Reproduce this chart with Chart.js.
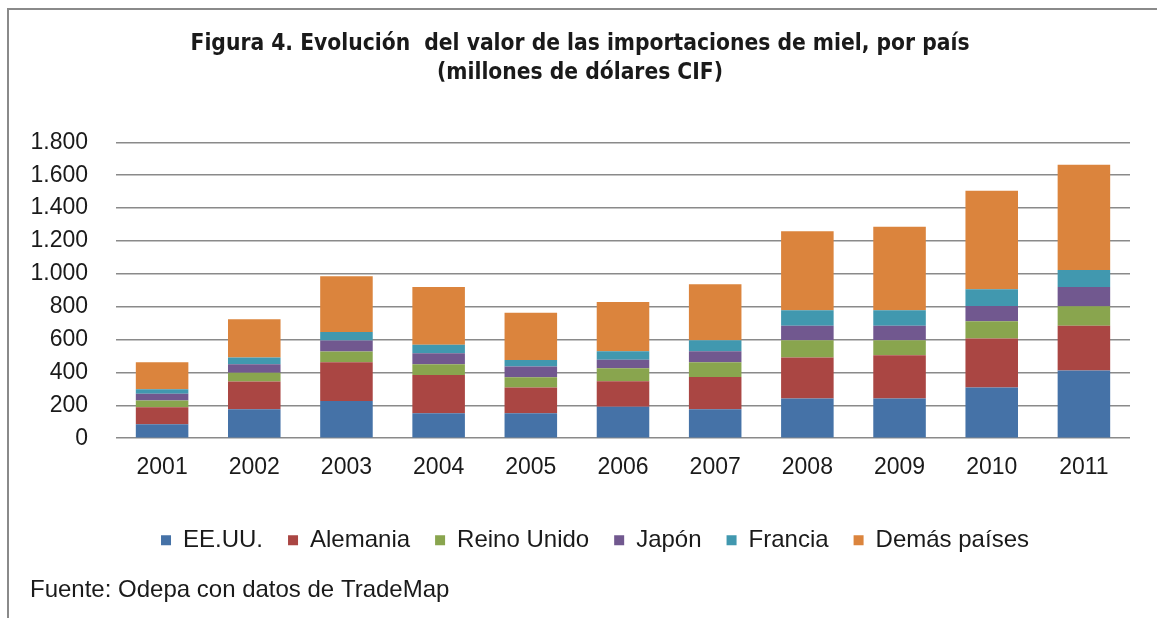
<!DOCTYPE html>
<html>
<head>
<meta charset="utf-8">
<script src="https://cdn.jsdelivr.net/npm/chart.js@4.4.0/dist/chart.umd.min.js"></script>
<style>
  html, body { margin: 0; padding: 0; background: #fff; }
  #wrap { width: 1157px; height: 618px; position: relative; }
</style>
</head>
<body>
<div id="wrap"><canvas id="honeyChart"></canvas></div>
<script>
const years = ["2001", "2002", "2003", "2004", "2005", "2006", "2007", "2008", "2009", "2010", "2011"];
const eeuu     = [85, 176, 227, 152, 152, 191, 176, 241, 241, 308, 412];
const alemania = [104, 169, 235, 233, 156, 156, 197, 250, 264, 298, 273];
const reino    = [40, 54, 65, 65, 63, 79, 89, 105, 91, 106, 118];
const japon    = [41, 51, 67, 67, 65, 52, 67, 89, 89, 93, 117];
const francia  = [28, 41, 53, 51, 40, 51, 67, 93, 93, 101, 104];
const demas    = [164, 233, 338, 352, 288, 300, 341, 481, 509, 600, 640];
const seriesNames = ["EE.UU.", "Alemania", "Reino Unido", "Japón", "Francia", "Demás países"];
const yTicks = [0, 200, 400, 600, 800, 1000, 1200, 1400, 1600, 1800];
const titleLines = ["Figura 4. Evolución  del valor de las importaciones de miel, por país", "(millones de dólares CIF)"];
const sourceNote = "Fuente: Odepa con datos de TradeMap";

const colors = ["#4572A7", "#AA4643", "#89A54E", "#71588F", "#4198AF", "#DB843D"];
const textFont = "'Liberation Sans', Arial, sans-serif";

// thousands with a dot, like 1.800
function fmt(v) {
    var s = String(v);
    return s.length > 3 ? s.slice(0, s.length - 3) + "." + s.slice(-3) : s;
}

// grey frame on the left and top, as in the source figure
const framePlugin = {
    id: "frame",
    beforeDraw(chart) {
        var ctx = chart.ctx;
        ctx.save();
        ctx.fillStyle = "#fff";
        ctx.fillRect(0, 0, chart.width, chart.height);
        ctx.strokeStyle = "#8a8a8a";
        ctx.lineWidth = 2;
        ctx.beginPath();
        ctx.moveTo(8, chart.height);
        ctx.lineTo(8, 9);
        ctx.lineTo(chart.width, 9);
        ctx.stroke();
        ctx.restore();
    },
    // legend sits a bit right of the title in the original
    afterLayout(chart) {
        chart.legend.left += 15;
        chart.legend.right += 15;
    }
};

window.onload = function() {
    var data = [eeuu, alemania, reino, japon, francia, demas];
    var datasets = seriesNames.map(function(name, i) {
        return {
            label: name,
            data: data[i],
            backgroundColor: colors[i],
            borderWidth: 0,
            categoryPercentage: 1,
            barPercentage: 0.57
        };
    });

    var context = document.getElementById("honeyChart").getContext("2d");
    new Chart(context, {
        type: "bar",
        data: { labels: years, datasets: datasets },
        plugins: [framePlugin],
        options: {
            responsive: true,
            maintainAspectRatio: false,
            animation: false,
            layout: { padding: { left: 30, right: 27, top: 0, bottom: 0 } },
            plugins: {
                tooltip: { enabled: false },
                title: {
                    display: true,
                    text: titleLines,
                    color: "#1a1a1a",
                    font: { family: "'DejaVu Sans Condensed', " + textFont, size: 22.6, weight: "bold", lineHeight: 1.27 },
                    padding: { top: 30, bottom: 55 }
                },
                legend: {
                    position: "bottom",
                    labels: {
                        color: "#1a1a1a",
                        font: { family: textFont, size: 24 },
                        boxWidth: 10,
                        boxHeight: 10,
                        padding: 25
                    }
                },
                subtitle: {
                    display: true,
                    text: sourceNote,
                    position: "bottom",
                    align: "start",
                    color: "#1a1a1a",
                    font: { family: textFont, size: 24 },
                    padding: { top: 14, bottom: 13 }
                }
            },
            scales: {
                x: {
                    stacked: true,
                    grid: { display: false, drawTicks: false },
                    border: { display: false },
                    ticks: { color: "#1a1a1a", font: { family: textFont, size: 23 }, padding: 16 },
                    afterFit: function(axis) { axis.height = 65; }
                },
                y: {
                    stacked: true,
                    min: 0,
                    max: 1800,
                    afterBuildTicks: function(axis) {
                        axis.ticks = yTicks.map(function(v) { return { value: v }; });
                    },
                    afterFit: function(axis) { axis.width = 86; },
                    grid: { color: "#8a8a8a", lineWidth: 1.6, drawTicks: false },
                    border: { display: false },
                    ticks: {
                        color: "#1a1a1a",
                        font: { family: textFont, size: 23 },
                        padding: 28,
                        callback: function(v) { return fmt(v); }
                    }
                }
            }
        }
    });
};
</script>
</body>
</html>
